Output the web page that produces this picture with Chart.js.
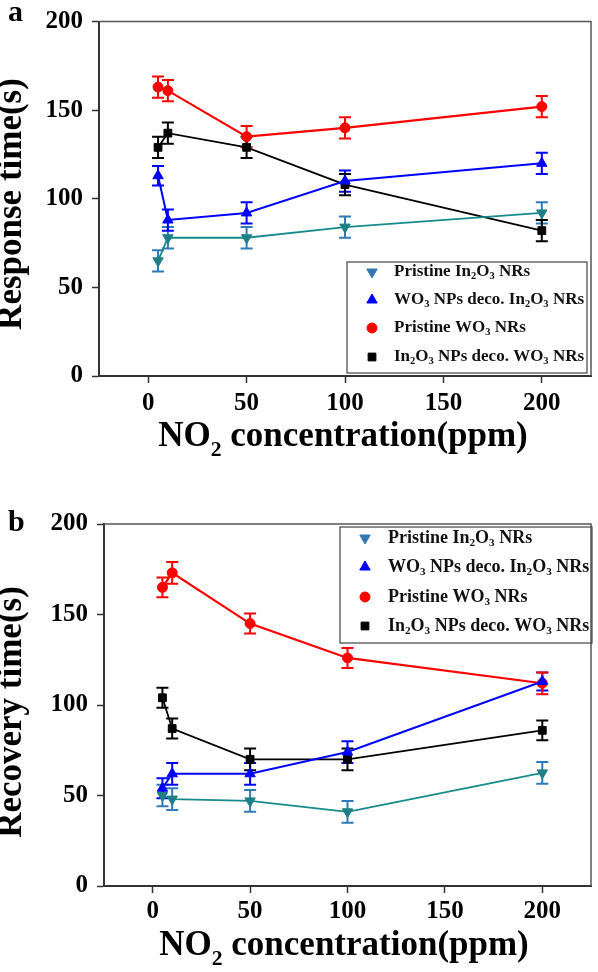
<!DOCTYPE html>
<html>
<head>
<meta charset="utf-8">
<script src="https://cdn.jsdelivr.net/npm/chart.js@4.4.1/dist/chart.umd.min.js"></script>
<style>
  body { margin: 0; background: #fff; }
  .panel { position: relative; width: 598px; height: 486px; }
</style>
</head>
<body>
<div class="panel"><canvas id="chartA" width="598" height="486"></canvas></div>
<div class="panel"><canvas id="chartB" width="598" height="486"></canvas></div>
<script>
// NO2 concentration (ppm) of each measurement
var conc = [5, 10, 50, 100, 200];
var xTicks = [0, 50, 100, 150, 200];
var yTicks = [0, 50, 100, 150, 200];

var seriesNames = ['Pristine In₂O₃ NRs', 'WO₃ NPs deco. In₂O₃ NRs', 'Pristine WO₃ NRs', 'In₂O₃ NPs deco. WO₃ NRs'];

// (a) response time (s)
var respIn2O3 = [65, 78, 78, 84, 92];
var respIn2O3Err = [6, 6, 6, 6, 6];
var respWO3onIn = [113, 88, 92, 110, 120];
var respWO3onInErr = [5.5, 6, 6, 6, 6];
var respWO3 = [163, 161, 135, 140, 152];
var respWO3Err = [6, 6, 6, 6, 6];
var respInOnWO3 = [129, 137, 129, 108, 82];
var respInOnWO3Err = [6, 6, 6, 6, 6];

// (b) recovery time (s)
var recIn2O3 = [50, 48, 47, 41, 62.5];
var recIn2O3Err = [6, 6, 6, 6, 6];
var recWO3onIn = [54, 62, 62, 74, 113];
var recWO3onInErr = [5.5, 6, 6, 6, 5];
var recWO3 = [165, 173, 145, 126, 112];
var recWO3Err = [5.5, 6, 5.5, 5.5, 6];
var recInOnWO3 = [104, 87, 70, 70, 86];
var recInOnWO3Err = [5.5, 5.5, 6, 6, 5.5];

var SERIF = '"Liberation Serif", "Times New Roman", serif';
var SUBS = '₀₁₂₃₄₅₆₇₈₉';

var styles = [
  { line: '#178a8c', mark: '#1f7f86', err: '#2f7ab8', legend: '#3479b6', shape: 'triangle', rot: 180, r: 6, lw: 1.8 },
  { line: '#0000ff', mark: '#0000ff', err: '#0000ff', legend: '#0000ff', shape: 'triangle', rot: 0, r: 6, lw: 2 },
  { line: '#ff0000', mark: '#ff0000', err: '#ff0000', legend: '#ff0000', shape: 'circle', rot: 0, r: 5, lw: 2.2 },
  { line: '#000000', mark: '#000000', err: '#000000', legend: '#000000', shape: 'rect', rot: 0, r: 5.5, lw: 1.8 }
];

// split text into normal / subscript pieces
function pieces(str) {
  var out = [];
  for (var i = 0; i < str.length; i++) {
    var ch = str[i];
    var k = SUBS.indexOf(ch);
    var sub = k >= 0;
    var c = sub ? String(k) : ch;
    if (out.length && out[out.length - 1].sub === sub) out[out.length - 1].t += c;
    else out.push({ t: c, sub: sub });
  }
  return out;
}

function richWidth(ctx, str, size) {
  var w = 0;
  pieces(str).forEach(function (p) {
    ctx.font = 'bold ' + (p.sub ? size * 0.62 : size) + 'px ' + SERIF;
    w += ctx.measureText(p.t).width;
  });
  return w;
}

function drawRich(ctx, str, x, y, size, align) {
  var w = richWidth(ctx, str, size);
  var cx = align === 'center' ? x - w / 2 : x;
  ctx.textAlign = 'left';
  pieces(str).forEach(function (p) {
    ctx.font = 'bold ' + (p.sub ? size * 0.62 : size) + 'px ' + SERIF;
    ctx.fillText(p.t, cx, p.sub ? y + size * 0.28 : y);
    cx += ctx.measureText(p.t).width;
  });
}

var extras = {
  id: 'extras',
  beforeDatasetsDraw: function (chart) {
    var ctx = chart.ctx, xs = chart.scales.x, ys = chart.scales.y;
    ctx.save();
    chart.data.datasets.forEach(function (ds, i) {
      ctx.strokeStyle = styles[i].err;
      ctx.lineWidth = 2;
      ds.err.forEach(function (e, j) {
        var px = xs.getPixelForValue(conc[j]);
        var top = ys.getPixelForValue(ds.vals[j] + e);
        var bot = ys.getPixelForValue(ds.vals[j] - e);
        ctx.beginPath();
        ctx.moveTo(px, top); ctx.lineTo(px, bot);
        ctx.moveTo(px - 6, top); ctx.lineTo(px + 6, top);
        ctx.moveTo(px - 6, bot); ctx.lineTo(px + 6, bot);
        ctx.stroke();
      });
    });
    ctx.restore();
  },
  afterDraw: function (chart) {
    var ctx = chart.ctx, a = chart.chartArea, o = chart.options.plugins.extras;
    ctx.save();
    // top and right frame
    ctx.strokeStyle = '#555';
    ctx.lineWidth = 1.5;
    ctx.beginPath();
    ctx.moveTo(a.left, a.top); ctx.lineTo(a.right, a.top); ctx.lineTo(a.right, a.bottom);
    ctx.stroke();

    ctx.fillStyle = '#000';
    ctx.textBaseline = 'alphabetic';
    // panel letter
    drawRich(ctx, o.letter, 8, o.letterY, 30, 'left');
    // x title
    drawRich(ctx, 'NO₂ concentration(ppm)', o.xTitleX, o.xTitleY, 35, 'center');
    // y title
    ctx.save();
    ctx.translate(21, o.yTitleY);
    ctx.rotate(-Math.PI / 2);
    drawRich(ctx, o.yTitle, 0, 0, 35, 'center');
    ctx.restore();

    // legend
    var L = o.legend;
    ctx.strokeStyle = '#444';
    ctx.lineWidth = 1.2;
    ctx.strokeRect(L.x, L.y, L.w, L.h);
    seriesNames.forEach(function (name, i) {
      var cy = L.rows[i];
      ctx.fillStyle = styles[i].legend;
      ctx.strokeStyle = styles[i].legend;
      ctx.lineWidth = 1;
      Chart.helpers.drawPoint(ctx, { pointStyle: styles[i].shape, radius: styles[i].r, rotation: styles[i].rot, borderWidth: 1 }, L.mx, cy);
      ctx.fillStyle = '#111';
      ctx.textBaseline = 'middle';
      drawRich(ctx, name, L.tx, cy, L.font, 'left');
    });
    ctx.restore();
  }
};

function makeChart(id, vals, errs, cfg) {
  var datasets = vals.map(function (v, i) {
    var s = styles[i];
    return {
      label: seriesNames[i],
      data: conc.map(function (c, j) { return { x: c, y: v[j] }; }),
      vals: v,
      err: errs[i],
      borderColor: s.line,
      borderWidth: s.lw,
      backgroundColor: s.mark,
      pointBackgroundColor: s.mark,
      pointBorderColor: s.mark,
      pointBorderWidth: 1,
      pointStyle: s.shape,
      pointRotation: s.rot,
      pointRadius: s.r,
      tension: 0
    };
  });
  var tickFont = { family: SERIF, size: 25, weight: 'bold', lineHeight: 1 };
  return new Chart(document.getElementById(id), {
    type: 'line',
    data: { datasets: datasets },
    options: {
      responsive: false,
      animation: false,
      devicePixelRatio: 1,
      layout: { padding: cfg.pad },
      plugins: {
        legend: { display: false },
        tooltip: { enabled: false },
        extras: cfg
      },
      scales: {
        x: {
          type: 'linear', min: -25, max: 225,
          afterBuildTicks: function (s) { s.ticks = xTicks.map(function (v) { return { value: v }; }); },
          afterFit: function (s) { s.height = cfg.xH; },
          ticks: { font: tickFont, color: '#000', padding: cfg.xPad, maxRotation: 0 },
          grid: { drawOnChartArea: false, tickLength: 7, tickWidth: 1.5, color: '#333' },
          border: { color: '#333', width: 2 }
        },
        y: {
          min: 0, max: 200,
          afterBuildTicks: function (s) { s.ticks = yTicks.map(function (v) { return { value: v }; }); },
          afterFit: function (s) { s.width = cfg.yW; },
          ticks: { font: tickFont, color: '#000', padding: 9 },
          grid: { drawOnChartArea: false, tickLength: 7, tickWidth: 1.5, color: '#333' },
          border: { color: '#333', width: 2 }
        }
      }
    },
    plugins: [extras]
  });
}

makeChart('chartA',
  [respIn2O3, respWO3onIn, respWO3, respInOnWO3],
  [respIn2O3Err, respWO3onInErr, respWO3Err, respInOnWO3Err],
  {
    pad: { top: 13, right: 7, left: 0, bottom: 0 }, xH: 110, yW: 99, xPad: 8,
    letter: 'a', letterY: 21, yTitle: 'Response time(s)', yTitleY: 204,
    xTitleX: 343, xTitleY: 446,
    legend: { x: 347, y: 262, w: 240, h: 111, rows: [272, 300, 328, 357], mx: 372, tx: 394, font: 17 }
  });

makeChart('chartB',
  [recIn2O3, recWO3onIn, recWO3, recInOnWO3],
  [recIn2O3Err, recWO3onInErr, recWO3Err, recInOnWO3Err],
  {
    pad: { top: 38, right: 4, left: 0, bottom: 0 }, xH: 86, yW: 104, xPad: 6,
    letter: 'b', letterY: 45, yTitle: 'Recovery time(s)', yTitleY: 226,
    xTitleX: 344, xTitleY: 469,
    legend: { x: 340, y: 41, w: 252, h: 116, rows: [52, 81, 111, 140], mx: 365, tx: 388, font: 18 }
  });
</script>
</body>
</html>
